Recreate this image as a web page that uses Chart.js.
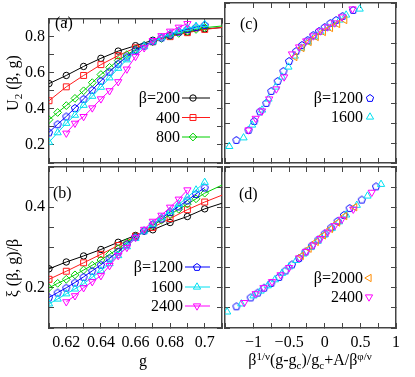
<!DOCTYPE html>
<html><head><meta charset="utf-8">
<script src="https://cdn.jsdelivr.net/npm/chart.js@4.4.1/dist/chart.umd.min.js"></script>
<style>
html,body{margin:0;padding:0;background:#fff;overflow:hidden}
#wrap{position:relative;width:415px;height:377px;background:#fff}
#wrap canvas{position:absolute;left:0;top:0}
</style></head>
<body><div id="wrap">
<canvas id="pa" width="415" height="377"></canvas>
<canvas id="pb" width="415" height="377"></canvas>
<canvas id="pc" width="415" height="377"></canvas>
<canvas id="pd" width="415" height="377"></canvas>
</div>
<script>
// ---------- data: panel (a) U2(beta,g) ----------
const gCoarse = [0.61,0.62,0.63,0.64,0.65,0.66,0.67,0.68,0.69,0.70,0.72];
const gFine   = [0.61,0.615,0.62,0.625,0.63,0.635,0.64,0.645,0.65,0.655,0.66,0.665,0.67,0.675,0.68,0.685,0.69,0.695,0.70];
const gFineExt = [0.61,0.615,0.62,0.625,0.63,0.635,0.64,0.645,0.65,0.655,0.66,0.665,0.67,0.675,0.68,0.685,0.69,0.695,0.70,0.72];
const g2400   = [0.62,0.625,0.63,0.635,0.64,0.645,0.65,0.655,0.66,0.665,0.67,0.675,0.68,0.685,0.69];

const uA200  = [0.540,0.585,0.635,0.680,0.720,0.750,0.780,0.805,0.825,0.843,0.858];
const uA400  = [0.445,0.522,0.585,0.645,0.695,0.738,0.772,0.800,0.822,0.840,0.862];
const uA800  = [0.340,0.380,0.418,0.458,0.500,0.545,0.590,0.630,0.668,0.700,0.728,0.752,0.772,0.790,0.805,0.818,0.830,0.840,0.850,0.868];
const uA1200 = [0.270,0.315,0.358,0.405,0.455,0.505,0.555,0.605,0.650,0.690,0.725,0.750,0.775,0.795,0.812,0.828,0.842,0.853,0.865];
const uA1600 = [0.215,0.268,0.320,0.365,0.420,0.470,0.520,0.572,0.625,0.672,0.712,0.745,0.772,0.795,0.815,0.832,0.847,0.858,0.868];
const uA2400 = [0.265,0.320,0.357,0.405,0.455,0.500,0.550,0.620,0.690,0.738,0.778,0.805,0.830,0.852,0.872];

// ---------- data: panel (b) xi/beta ----------
const xB200  = [0.247,0.264,0.279,0.295,0.313,0.330,0.344,0.362,0.377,0.396,0.424];
const xB400  = [0.221,0.241,0.262,0.283,0.305,0.328,0.350,0.372,0.394,0.413,0.447];
const xB800  = [0.200,0.211,0.221,0.232,0.244,0.256,0.269,0.283,0.297,0.312,0.327,0.341,0.355,0.368,0.382,0.395,0.408,0.421,0.435,0.475];
const xB1200 = [0.176,0.188,0.200,0.213,0.227,0.242,0.257,0.273,0.290,0.308,0.326,0.342,0.358,0.372,0.388,0.402,0.417,0.433,0.449];
const xB1600 = [0.160,0.172,0.185,0.197,0.210,0.226,0.242,0.260,0.280,0.302,0.323,0.341,0.358,0.374,0.390,0.407,0.425,0.443,0.462];
const xB2400 = [0.165,0.180,0.200,0.215,0.230,0.255,0.280,0.300,0.325,0.345,0.365,0.380,0.400,0.420,0.443];

// ---------- data: panel (c) collapsed U2 ----------
const cX1200 = [-1.24,-1.07,-0.99,-0.91,-0.82,-0.75,-0.66,-0.58,-0.50,-0.40,-0.32,-0.24,-0.16,-0.08,0.00,0.08,0.16,0.25,0.40];
const cY1200 = [0.215,0.265,0.310,0.358,0.400,0.460,0.510,0.560,0.610,0.660,0.690,0.715,0.740,0.760,0.780,0.800,0.815,0.835,0.865];
const cX1600 = [-1.34,-1.14,-1.02,-0.88,-0.79,-0.69,-0.60,-0.51,-0.42,-0.33,-0.24,-0.15,-0.06,0.03,0.12,0.21,0.30,0.49];
const cY1600 = [0.183,0.226,0.290,0.365,0.420,0.480,0.530,0.580,0.635,0.675,0.705,0.730,0.755,0.775,0.795,0.815,0.840,0.870];
const cX2000 = [-0.42,-0.32,-0.22,-0.12,-0.02,0.08,0.18,0.28];
const cY2000 = [0.630,0.675,0.705,0.730,0.755,0.775,0.795,0.815];
const cX2400 = [-1.07,-0.97,-0.88,-0.78,-0.68,-0.57,-0.46,-0.36,-0.26,-0.16,-0.06,0.04,0.14,0.24,0.39];
const cY2400 = [0.265,0.323,0.360,0.420,0.470,0.530,0.645,0.680,0.710,0.735,0.760,0.780,0.800,0.830,0.870];

// ---------- data: panel (d) collapsed xi/beta ----------
const dX1200 = [-1.24,-1.04,-0.94,-0.85,-0.75,-0.64,-0.55,-0.46,-0.36,-0.27,-0.18,-0.09,0.00,0.09,0.18,0.27,0.35,0.52,0.72];
const dY1200 = [0.154,0.176,0.188,0.200,0.212,0.227,0.243,0.258,0.274,0.290,0.305,0.320,0.335,0.350,0.366,0.381,0.398,0.419,0.452];
const dX1600 = [-1.37,-1.17,-1.00,-0.90,-0.80,-0.70,-0.60,-0.50,-0.40,-0.30,-0.20,-0.10,0.00,0.10,0.20,0.30,0.45,0.60,0.79];
const dY1600 = [0.140,0.160,0.180,0.192,0.205,0.220,0.236,0.252,0.268,0.284,0.300,0.316,0.332,0.348,0.364,0.381,0.405,0.428,0.457];
const dX2000 = [-0.33,-0.22,-0.12,-0.02,0.08,0.18,0.28,0.42];
const dY2000 = [0.279,0.297,0.314,0.330,0.346,0.362,0.378,0.400];
const dX2400 = [-1.13,-0.97,-0.86,-0.74,-0.62,-0.50,-0.36,-0.26,-0.16,-0.06,0.04,0.14,0.24,0.40,0.66];
const dY2400 = [0.163,0.185,0.200,0.215,0.232,0.250,0.274,0.290,0.306,0.322,0.338,0.354,0.370,0.395,0.437];

// ---------- tick labels ----------
const yTickLabelsA = ['0.2','0.4','0.6','0.8'];
const yTickLabelsB = ['0.2','0.4'];
const xTickLabelsB = ['0.62','0.64','0.66','0.68','0.7'];
const xTickLabelsD = ['\u22121','\u22120.5','0','0.5','1'];

// ---------- styling ----------
const FONT_FAMILY = "'Liberation Serif','Times New Roman',serif";
const FS = 16;
const FRAME = '#444';

function pentagon(color){
  const c = document.createElement('canvas'); c.width = 10; c.height = 10;
  const x = c.getContext('2d'); x.strokeStyle = color; x.lineWidth = 1;
  x.beginPath();
  for (let i = 0; i < 5; i++) {
    const a = -Math.PI/2 + i*2*Math.PI/5;
    const px = 5 + 3.8*Math.cos(a), py = 5.3 + 3.8*Math.sin(a);
    if (i) x.lineTo(px, py); else x.moveTo(px, py);
  }
  x.closePath(); x.stroke();
  return c;
}
const STY = {
  200:  {color:'#000000', ps:'circle',   r:3.2, rot:0,   order:7},
  400:  {color:'#ff1a1a', ps:'rect',     r:4.2, rot:0,   order:6},
  800:  {color:'#00d000', ps:'rectRot',  r:3.9, rot:0,   order:5},
  1200: {color:'#0000ff', ps:pentagon('#0000ff'), r:3.6, rot:0, order:4},
  1600: {color:'#00e0f0', ps:'triangle', r:4.2, rot:0,   order:3},
  2000: {color:'#ff8c00', ps:'triangle', r:4.2, rot:-90, order:2},
  2400: {color:'#ff00ff', ps:'triangle', r:4.2, rot:180, order:1}
};

function ds(beta, xs, ys, showLine){
  const s = STY[beta];
  return {
    label: '\u03b2=' + beta,
    data: xs.map((x, i) => ({x: x, y: ys[i]})),
    borderColor: s.color, backgroundColor: 'rgba(0,0,0,0)', borderWidth: 1,
    showLine: showLine, tension: 0,
    pointStyle: s.ps, pointRadius: s.r, pointRotation: s.rot,
    pointBorderColor: s.color, pointBackgroundColor: 'rgba(0,0,0,0)', pointBorderWidth: 1,
    order: s.order
  };
}

function fmt(v){ const s = String(Math.round(v*1000)/1000); return s.replace('-', '\u2212'); }
function labelCb(list){ return function(v){ const s = fmt(v); return list.indexOf(s) >= 0 ? s : ''; }; }

function axis(pos, min, max, step, size, labels, pad){
  const horiz = (pos === 'top' || pos === 'bottom');
  return {
    type: 'linear', position: pos, min: min, max: max,
    border: {display: true, color: FRAME, width: 1.5},
    grid: {display: true, drawOnChartArea: false, drawTicks: true, tickLength: -5, color: FRAME, lineWidth: 1},
    ticks: {stepSize: step, autoSkip: false, maxRotation: 0, minRotation: 0,
            display: !!labels, callback: labels ? labelCb(labels) : undefined,
            font: {family: FONT_FAMILY, size: FS}, color: '#000', padding: pad || 0},
    afterFit: function(s){ if (horiz) s.height = size; else s.width = size; }
  };
}

function drawRich(ctx, spec){
  const size = spec.size || FS, small = Math.round(size*0.68);
  ctx.save();
  ctx.translate(spec.x, spec.y);
  if (spec.rot) ctx.rotate(spec.rot);
  ctx.textBaseline = 'alphabetic'; ctx.textAlign = 'left'; ctx.fillStyle = '#000';
  let w = 0;
  const ms = spec.parts.map(p => { ctx.font = (p.s ? small : size) + 'px ' + FONT_FAMILY; const m = ctx.measureText(p.t).width; w += m; return m; });
  let cx = spec.align === 'left' ? 0 : (spec.align === 'right' ? -w : -w/2);
  const base = size*0.33;
  spec.parts.forEach((p, i) => {
    ctx.font = (p.s ? small : size) + 'px ' + FONT_FAMILY;
    const dy = p.s === 'sub' ? size*0.22 : (p.s === 'sup' ? -size*0.36 : 0);
    ctx.fillText(p.t, cx, base + dy);
    cx += ms[i];
  });
  ctx.restore();
}

function legendItem(ctx, it){
  const s = STY[it.beta];
  ctx.save();
  ctx.font = FS + 'px ' + FONT_FAMILY; ctx.fillStyle = '#000';
  ctx.textAlign = 'right'; ctx.textBaseline = 'middle';
  ctx.fillText(it.text, it.xr, it.y + 1);
  ctx.strokeStyle = s.color; ctx.lineWidth = 1;
  if (it.line) { ctx.beginPath(); ctx.moveTo(it.line[0], it.y); ctx.lineTo(it.line[1], it.y); ctx.stroke(); }
  ctx.fillStyle = 'rgba(0,0,0,0)';
  Chart.helpers.drawPoint(ctx, {pointStyle: s.ps, radius: s.r, rotation: s.rot, borderWidth: 1}, it.mx, it.y);
  ctx.restore();
}

function deco(spec){
  return {
    id: 'deco',
    afterDraw(chart){
      const ctx = chart.ctx;
      (spec.texts || []).forEach(t => drawRich(ctx, t));
      (spec.legend || []).forEach(l => legendItem(ctx, l));
    }
  };
}

function make(id, datasets, sc, padding, spec){
  return new Chart(document.getElementById(id), {
    type: 'line',
    data: {datasets: datasets},
    options: {
      responsive: false, animation: false, events: [],
      layout: {padding: padding, autoPadding: false},
      plugins: {legend: {display: false}, tooltip: {enabled: false}},
      scales: sc
    },
    plugins: [deco(spec)]
  });
}

// ---------- panel (a) ----------
make('pa', [
  ds(200, gCoarse, uA200, true), ds(400, gCoarse, uA400, true), ds(800, gFineExt, uA800, true),
  ds(1200, gFine, uA1200, true), ds(1600, gFine, uA1600, true), ds(2400, g2400, uA2400, true)
], {
  x: axis('bottom', 0.61, 0.71, 0.01, 0, null),
  x2: axis('top', 0.61, 0.71, 0.01, 0, null),
  y: axis('left', 0.1, 0.9, 0.1, 49, yTickLabelsA, 9),
  y2: axis('right', 0.1, 0.9, 0.1, 0, null)
}, {top: 3, left: 0, right: 193, bottom: 214}, {
  texts: [
    {parts: [{t: '(a)'}], x: 55, y: 23, align: 'left'},
    {parts: [{t: 'U'}, {t: '2', s: 'sub'}, {t: ' (\u03b2, g)'}], x: 13, y: 83, rot: -Math.PI/2}
  ],
  legend: [
    {beta: 200, text: '\u03b2=200', xr: 180, y: 98, line: [182, 210], mx: 193},
    {beta: 400, text: '400', xr: 180, y: 117.5, line: [182, 210], mx: 193},
    {beta: 800, text: '800', xr: 180, y: 137, line: [182, 210], mx: 193}
  ]
});

// ---------- panel (b) ----------
make('pb', [
  ds(200, gCoarse, xB200, true), ds(400, gCoarse, xB400, true), ds(800, gFineExt, xB800, true),
  ds(1200, gFine, xB1200, true), ds(1600, gFine, xB1600, true), ds(2400, g2400, xB2400, true)
], {
  x: axis('bottom', 0.61, 0.71, 0.01, 49, xTickLabelsB, 10),
  x2: axis('top', 0.61, 0.71, 0.01, 0, null),
  y: axis('left', 0.1, 0.5, 0.05, 49, yTickLabelsB, 9),
  y2: axis('right', 0.1, 0.5, 0.05, 0, null)
}, {top: 167, left: 0, right: 193, bottom: 0}, {
  texts: [
    {parts: [{t: '(b)'}], x: 53, y: 193, align: 'left'},
    {parts: [{t: '\u03be (\u03b2, g)/\u03b2'}], x: 13, y: 268, rot: -Math.PI/2},
    {parts: [{t: 'g'}], x: 143, y: 361}
  ],
  legend: [
    {beta: 1200, text: '\u03b2=1200', xr: 183, y: 267, line: [185, 210], mx: 197},
    {beta: 1600, text: '1600', xr: 183, y: 287, line: [185, 210], mx: 197},
    {beta: 2400, text: '2400', xr: 183, y: 306, line: [185, 210], mx: 197}
  ]
});

// ---------- panel (c) ----------
make('pc', [
  ds(1200, cX1200, cY1200, false), ds(1600, cX1600, cY1600, false),
  ds(2000, cX2000, cY2000, false), ds(2400, cX2400, cY2400, false)
], {
  x: axis('bottom', -1.4, 1, 0.25, 0, null),
  x2: axis('top', -1.4, 1, 0.25, 0, null),
  y: axis('left', 0.1, 0.9, 0.1, 0, null),
  y2: axis('right', 0.1, 0.9, 0.1, 0, null)
}, {top: 3, left: 225, right: 19, bottom: 214}, {
  texts: [ {parts: [{t: '(c)'}], x: 240, y: 24, align: 'left'} ],
  legend: [
    {beta: 1200, text: '\u03b2=1200', xr: 363, y: 98, mx: 370},
    {beta: 1600, text: '1600', xr: 363, y: 117, mx: 370}
  ]
});

// ---------- panel (d) ----------
make('pd', [
  ds(1200, dX1200, dY1200, false), ds(1600, dX1600, dY1600, false),
  ds(2000, dX2000, dY2000, false), ds(2400, dX2400, dY2400, false)
], {
  x: axis('bottom', -1.4, 1, 0.25, 49, xTickLabelsD, 10),
  x2: axis('top', -1.4, 1, 0.25, 0, null),
  y: axis('left', 0.1, 0.5, 0.05, 0, null),
  y2: axis('right', 0.1, 0.5, 0.05, 0, null)
}, {top: 167, left: 225, right: 19, bottom: 0}, {
  texts: [
    {parts: [{t: '(d)'}], x: 239, y: 194, align: 'left'},
    {parts: [{t: '\u03b2'}, {t: '1/\u03bd', s: 'sup'}, {t: '(g-g'}, {t: 'c', s: 'sub'}, {t: ')/g'}, {t: 'c', s: 'sub'}, {t: '+A/\u03b2'}, {t: '\u03c6/\u03bd', s: 'sup'}], x: 310, y: 360}
  ],
  legend: [
    {beta: 2000, text: '\u03b2=2000', xr: 363, y: 278, mx: 369},
    {beta: 2400, text: '2400', xr: 363, y: 297, mx: 369}
  ]
});
</script>
</body></html>
